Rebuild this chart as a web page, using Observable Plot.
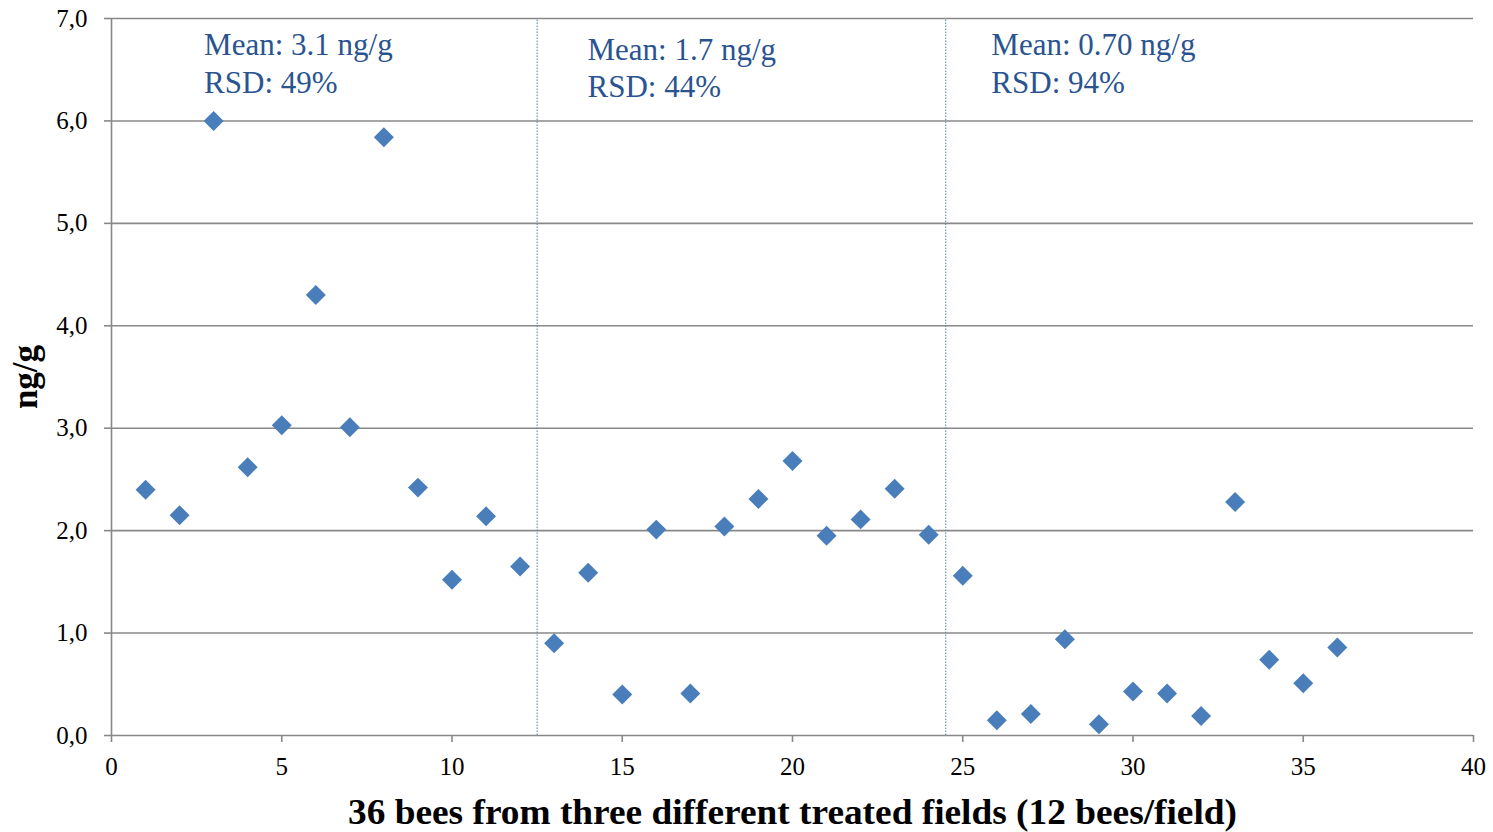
<!DOCTYPE html>
<html>
<head>
<meta charset="utf-8">
<script src="https://cdn.jsdelivr.net/npm/d3@7"></script>
<script src="https://cdn.jsdelivr.net/npm/@observablehq/plot@0.6"></script>
<style>
  html, body { margin: 0; padding: 0; background: #ffffff; }
  #chart { width: 1493px; height: 832px; }
</style>
</head>
<body>
<div id="chart"></div>
<script>
// ---- data ----
const bees = [1,2,3,4,5,6,7,8,9,10,11,12,13,14,15,16,17,18,19,20,21,22,23,24,25,26,27,28,29,30,31,32,33,34,35,36];
const values = [2.40,2.15,6.00,2.62,3.03,4.30,3.01,5.84,2.42,1.52,2.14,1.65,
                0.90,1.59,0.40,2.01,0.41,2.04,2.31,2.68,1.95,2.11,2.41,1.96,
                1.56,0.15,0.21,0.94,0.11,0.43,0.41,0.19,2.28,0.74,0.51,0.86];
const fieldDividers = [12.5, 24.5];
const meanLabels = ["Mean: 3.1 ng/g", "Mean: 1.7 ng/g", "Mean: 0.70 ng/g"];
const rsdLabels = ["RSD: 49%", "RSD: 44%", "RSD: 94%"];
const xTicks = [0,5,10,15,20,25,30,35,40];
const yTicks = [0,1,2,3,4,5,6,7];
const xTitle = "36 bees from three different treated fields (12 bees/field)";
const yTitle = "ng/g";

const points = bees.map((b, i) => ({bee: b, value: values[i]}));
const annotations = meanLabels.map((m, i) => ({text: m + "\n" + rsdLabels[i], field: i}));
// label anchor placement (x in bee units, y in ng/g) for each field's annotation
const annX = [2.72, 13.98, 25.84];
const annY = [6.90, 6.855, 6.90];

const gray = "#888888";
const font = "'Liberation Serif', 'Times New Roman', serif";

const chart = Plot.plot({
  width: 1493,
  height: 832,
  marginLeft: 111,
  marginRight: 20,
  marginTop: 18,
  marginBottom: 97,
  style: {fontFamily: font, background: "#ffffff", color: "#000000"},
  x: {domain: [0, 40]},
  y: {domain: [0, 7]},
  marks: [
    Plot.ruleY(yTicks, {stroke: gray, strokeWidth: 1.6}),
    Plot.ruleX([0], {stroke: gray, strokeWidth: 1.6}),
    Plot.axisX({ticks: xTicks, tickSize: 7, tickPadding: 15, stroke: gray, strokeWidth: 1.6,
                fill: "#000000", fontSize: 25, label: null, tickFormat: d => String(d)}),
    Plot.axisY({ticks: yTicks, tickSize: 7, tickPadding: 17, stroke: gray, strokeWidth: 1.6,
                fill: "#000000", fontSize: 25, label: null,
                tickFormat: d => d.toFixed(1).replace(".", ",")}),
    Plot.ruleX(fieldDividers, {y1: 0, y2: 7, stroke: "#4f81bd", strokeWidth: 1, strokeDasharray: "1.5 1.5"}),
    Plot.dot(points, {x: "bee", y: "value", symbol: "diamond2", r: 9, fill: "#4a7ebb", stroke: "none"}),
    Plot.text(annotations, {
      x: d => annX[d.field], y: d => annY[d.field], text: "text",
      textAnchor: "start", lineAnchor: "top", lineHeight: 1.21,
      fontSize: 31, fill: "#2a5490"
    }),
    Plot.text([xTitle], {frameAnchor: "bottom", dy: 76.5, text: d => d, textAnchor: "middle", lineAnchor: "middle",
                         fontSize: 36, fontWeight: "bold", fill: "#000000"}),
    Plot.text([yTitle], {frameAnchor: "left", dx: -85.5, rotate: -90, text: d => d, textAnchor: "middle", lineAnchor: "middle",
                         fontSize: 35, fontWeight: "bold", fill: "#000000"})
  ]
});

document.getElementById("chart").appendChild(chart);

// condense the x title to the width it has in the reference
chart.querySelectorAll("text").forEach(t => {
  if (t.textContent === xTitle) {
    t.setAttribute("textLength", "889");
    t.setAttribute("lengthAdjust", "spacingAndGlyphs");
  }
});
</script>
</body>
</html>
